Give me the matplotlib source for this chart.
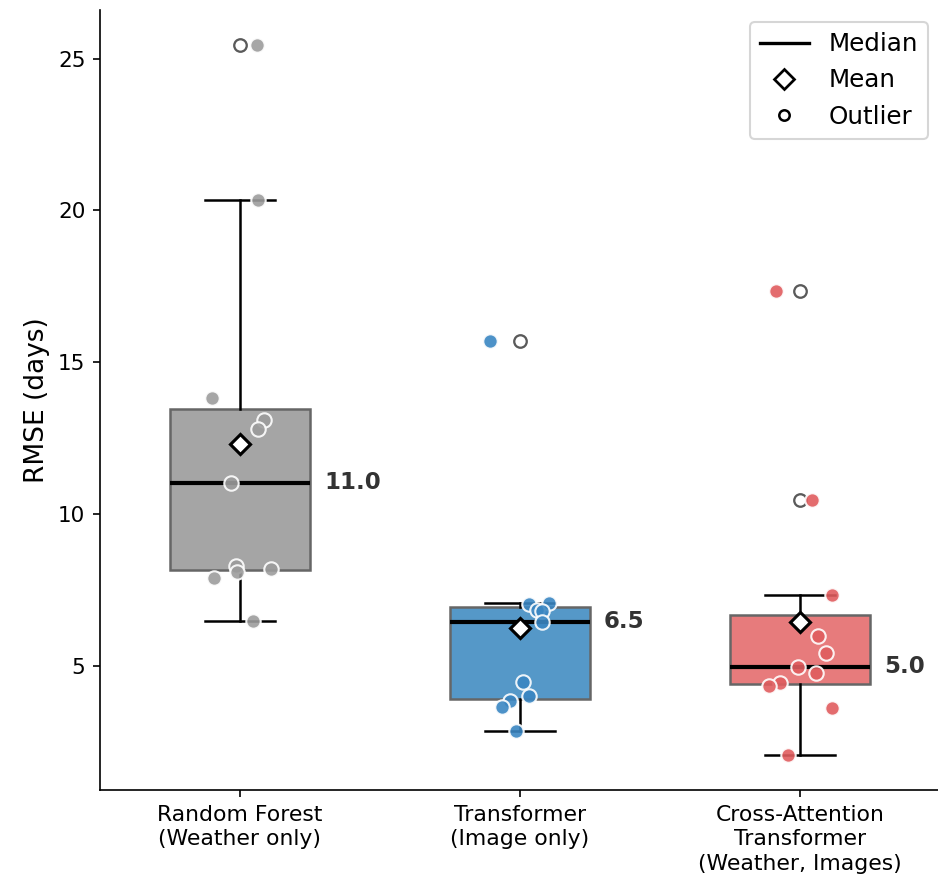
import matplotlib
matplotlib.use("Agg")
import matplotlib.pyplot as plt
from matplotlib.lines import Line2D
import numpy as np

categories = ["Random Forest\n(Weather only)", "Transformer\n(Image only)",
              "Cross-Attention\nTransformer\n(Weather, Images)"]

rf_values = [25.43, 20.33, 13.82, 13.09, 12.80, 11.03, 8.29, 8.09, 8.19, 7.89, 6.48]
rf_jitter = [0.061, 0.064, -0.100, 0.086, 0.064, -0.032, -0.014, -0.011, 0.111, -0.093, 0.046]

tr_values = [15.69, 7.07, 7.04, 6.84, 6.80, 6.45, 4.47, 4.01, 3.82, 3.65, 2.83]
tr_jitter = [-0.107, 0.104, 0.032, 0.061, 0.079, 0.079, 0.011, 0.032, -0.036, -0.064, -0.014]

ca_values = [17.35, 10.46, 7.34, 5.99, 5.43, 4.97, 4.77, 4.44, 4.34, 3.59, 2.07]
ca_jitter = [-0.086, 0.043, 0.114, 0.064, 0.093, -0.007, 0.057, -0.071, -0.111, 0.114, -0.043]

all_values = [rf_values, tr_values, ca_values]
all_jitter = [rf_jitter, tr_jitter, ca_jitter]

box_colors = ["#a5a5a5", "#5598c8", "#e77b7c"]
point_colors = ["#9c9c9c", "#3a86c2", "#e05c5e"]

fig = plt.figure(figsize=(938 / 150, 879 / 150), dpi=150)
ax = fig.add_axes([100 / 938, 1 - 790 / 879, 840 / 938, 780 / 879])

positions = np.arange(len(categories))
bp = ax.boxplot(all_values, positions=positions, widths=0.5, patch_artist=True,
                showmeans=True, whis=1.5,
                medianprops=dict(color="black", linewidth=2),
                whiskerprops=dict(color="black", linewidth=1.2),
                capprops=dict(color="black", linewidth=1.2),
                flierprops=dict(marker="o", markerfacecolor="none",
                                markeredgecolor="#5a5a5a", markersize=6,
                                markeredgewidth=1.1),
                meanprops=dict(marker="D", markerfacecolor="white",
                               markeredgecolor="black", markersize=7,
                               markeredgewidth=1.5))
for patch, c in zip(bp["boxes"], box_colors):
    patch.set_facecolor(c)
    patch.set_edgecolor("#666666")
    patch.set_linewidth(1.2)
for m in bp["means"]:
    m.set_zorder(6)
for md in bp["medians"]:
    md.set_zorder(3)

for i, (vals, jit) in enumerate(zip(all_values, all_jitter)):
    xs = positions[i] + np.array(jit)
    ax.scatter(xs, vals, s=48, color=point_colors[i], edgecolors="white",
               linewidths=1.0, alpha=0.9, zorder=4)
    med = np.median(vals)
    ax.text(positions[i] + 0.3, med, f"{med:.1f}", ha="left", va="center",
            fontsize=11, fontweight="bold", color="#333333")

ax.set_xticks(positions)
ax.set_xticklabels(categories, fontsize=10.5, linespacing=1.3)
ax.tick_params(axis="y", labelsize=10.3)
ax.set_xlim(-0.5, 2.5)
ax.set_ylabel("RMSE (days)", fontsize=12.7)
ax.spines["top"].set_visible(False)
ax.spines["right"].set_visible(False)

handles = [Line2D([], [], color="black", linewidth=1.6),
           Line2D([], [], linestyle="none", marker="D", markerfacecolor="white",
                  markeredgecolor="black", markersize=7, markeredgewidth=1.3),
           Line2D([], [], linestyle="none", marker="o", markerfacecolor="none",
                  markeredgecolor="black", markersize=5, markeredgewidth=1.2)]
ax.legend(handles, ["Median", "Mean", "Outlier"], loc="upper right",
          fontsize=11.8, bbox_to_anchor=(1.0, 1.0))

fig.savefig("out.png", dpi=150)
